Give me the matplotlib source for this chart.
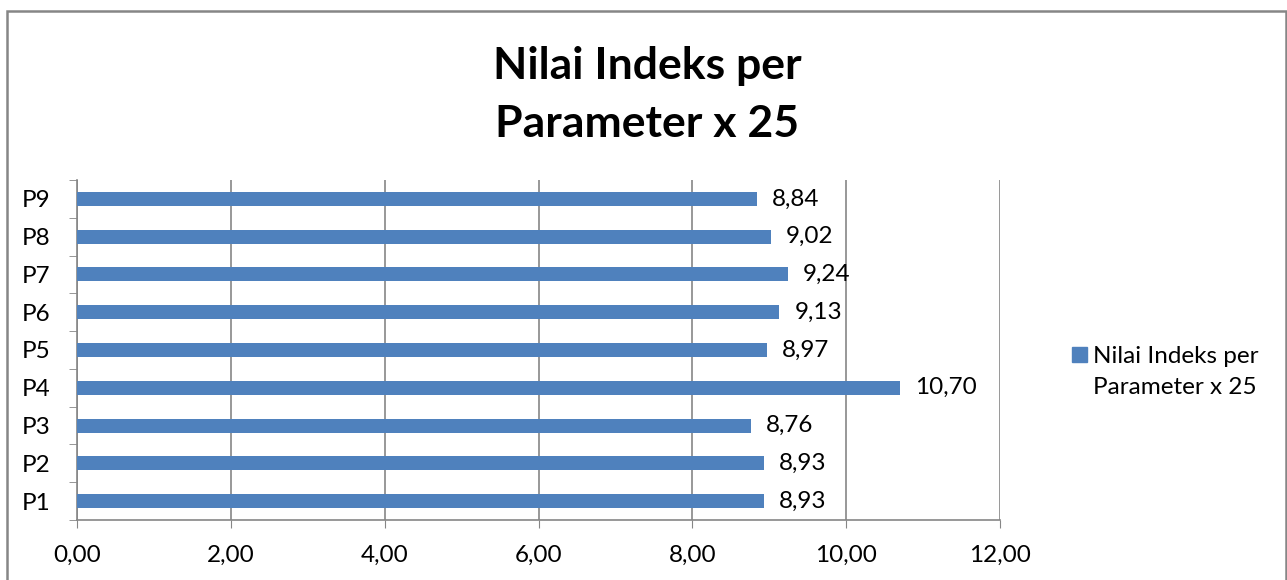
import matplotlib.pyplot as plt
from matplotlib.patches import Rectangle

plt.rcParams['font.family'] = ['Lato', 'DejaVu Sans']

categories = ['P1', 'P2', 'P3', 'P4', 'P5', 'P6', 'P7', 'P8', 'P9']
values = [8.93, 8.93, 8.76, 10.70, 8.97, 9.13, 9.24, 9.02, 8.84]
xticks = [0, 2, 4, 6, 8, 10, 12]
series_name = 'Nilai Indeks per\nParameter x 25'
title = 'Nilai Indeks per\nParameter x 25'

bar_color = '#4F81BD'
grid_color = '#868686'

fig = plt.figure(figsize=(12.87, 5.80), dpi=100)
ax = fig.add_axes([77 / 1287, 1 - 520 / 580, (1000 - 77) / 1287, (520 - 180) / 580])

ypos = list(range(len(categories)))
ax.barh(ypos, values, height=0.37, color=bar_color, zorder=3)
for y, v in zip(ypos, values):
    ax.text(v + 0.2, y, f'{v:.2f}'.replace('.', ','), va='center', ha='left',
            fontsize=17.5, color='black')

ax.set_xlim(0, 12)
ax.set_ylim(-0.5, len(categories) - 0.5)
ax.set_xticks(xticks)
ax.set_xticklabels([f'{t:.2f}'.replace('.', ',') for t in xticks], fontsize=17.5)
ax.set_yticks(ypos)
ax.set_yticklabels(categories, fontsize=17.5)
ax.set_yticks([y + 0.5 for y in [-1] + ypos], minor=True)
ax.tick_params(axis='y', which='major', length=0, pad=19)
ax.tick_params(axis='y', which='minor', length=6, color=grid_color, direction='out')
ax.tick_params(axis='x', which='major', length=6, color=grid_color, direction='out', pad=12)
ax.xaxis.grid(True, color=grid_color, linewidth=1.2, zorder=0)
for side in ['top', 'right']:
    ax.spines[side].set_visible(False)
for side in ['left', 'bottom']:
    ax.spines[side].set_color(grid_color)
    ax.spines[side].set_linewidth(1.2)

fig.text(647 / 1287, 1 - 95 / 580, title, ha='center', va='center',
         fontsize=32, fontweight='bold', linespacing=1.55)

# legend
fig.patches.append(Rectangle((1072 / 1287, 1 - 362 / 580), 15 / 1287, 15 / 580,
                             transform=fig.transFigure, color=bar_color))
fig.text(1093 / 1287, 1 - 372 / 580, series_name, ha='left', va='center',
         fontsize=17.5, linespacing=1.55)

# chart border
fig.patches.append(Rectangle((7 / 1287, -0.05), 1 - 8 / 1287, 1 - 11 / 580 + 0.05,
                             transform=fig.transFigure, fill=False,
                             edgecolor=grid_color, linewidth=1.8))

fig.savefig('out.png', dpi=100)
